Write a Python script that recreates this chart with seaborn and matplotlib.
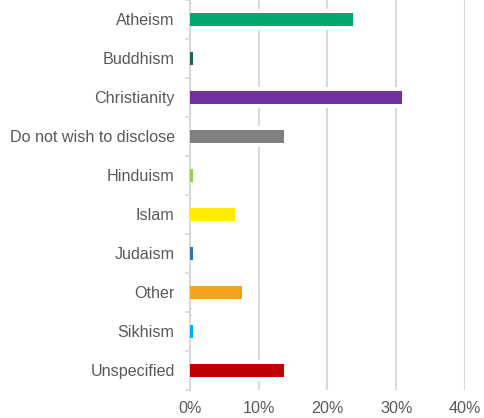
import matplotlib
matplotlib.use("Agg")
import matplotlib.pyplot as plt
import seaborn as sns
import pandas as pd
from matplotlib.ticker import FixedLocator, PercentFormatter

categories = ["Atheism", "Buddhism", "Christianity", "Do not wish to disclose",
              "Hinduism", "Islam", "Judaism", "Other", "Sikhism", "Unspecified"]
values = [0.237, 0.005, 0.308, 0.137, 0.005, 0.066, 0.005, 0.076, 0.005, 0.137]
colors = ["#00a870", "#17694a", "#7030a0", "#7f7f7f", "#92d050",
          "#ffeb00", "#2e75b6", "#f4a020", "#00b0f0", "#c00000"]
x_ticks = [0, 0.1, 0.2, 0.3, 0.4]

sns.set_theme(style="white")
plt.rcParams["font.family"] = ["Liberation Sans", "DejaVu Sans"]

df = pd.DataFrame({"category": categories, "value": values})

fig = plt.figure(figsize=(4.84, 4.18), dpi=100)
ax = fig.add_axes([0.3926, 0.067, 0.568, 0.933])

# white halo behind bars (hides gridlines near each bar)
sns.barplot(data=df, x="value", y="category", order=categories, color="white",
            width=0.52, ax=ax, orient="h", saturation=1, linewidth=0, zorder=2)
sns.barplot(data=df, x="value", y="category", order=categories, hue="category",
            hue_order=categories, palette=colors, width=0.31, ax=ax, orient="h",
            saturation=1, linewidth=0, legend=False, zorder=3)

ax.set_xlim(0, 0.4)
ax.set_ylim(len(categories) - 0.5, -0.5)
ax.set_xticks(x_ticks)
ax.xaxis.set_major_formatter(PercentFormatter(1.0, decimals=0))
ax.set_xlabel("")
ax.set_ylabel("")

ax.grid(axis="x", color="#d9d9d9", linewidth=1.5)
ax.grid(axis="y", visible=False)
ax.set_axisbelow(True)

for s in ["top", "right", "bottom"]:
    ax.spines[s].set_visible(False)
ax.spines["left"].set_color("#d9d9d9")
ax.spines["left"].set_linewidth(1.5)

ax.yaxis.set_minor_locator(FixedLocator([i + 0.5 for i in range(-1, len(categories))]))
ax.tick_params(axis="y", which="minor", length=3.6, width=1.2, color="#d9d9d9", left=True)
ax.tick_params(axis="y", which="major", length=0, pad=11, labelsize=11.6, labelcolor="#595959")
ax.tick_params(axis="x", which="major", length=0, pad=8, labelsize=11.6, labelcolor="#595959")

fig.savefig("out.png", dpi=100)
